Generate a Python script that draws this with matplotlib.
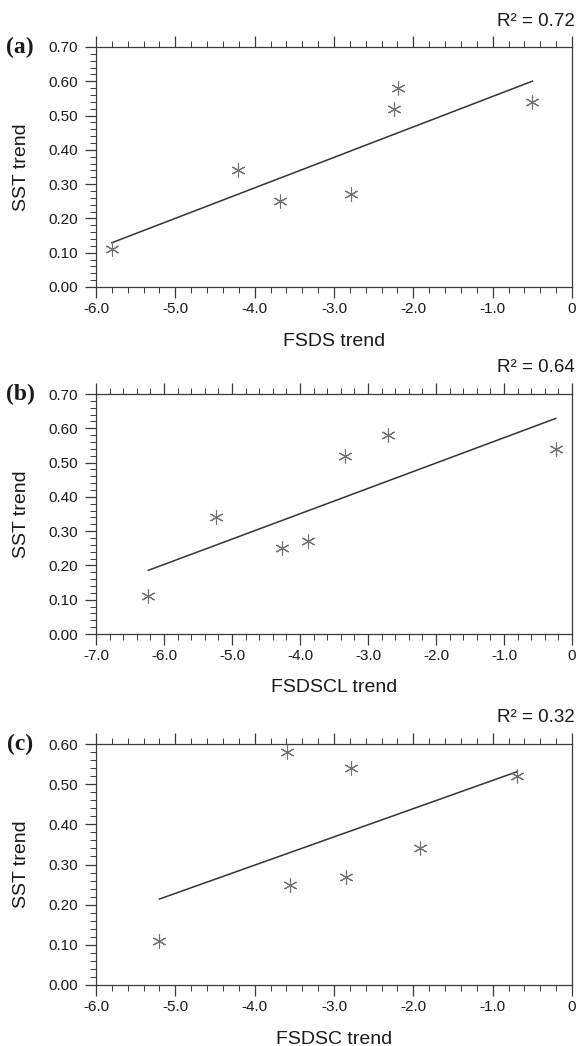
import numpy as np
import matplotlib
matplotlib.use("Agg")
import matplotlib.pyplot as plt
from matplotlib.ticker import MultipleLocator, FixedLocator, FixedFormatter

plt.rcParams['font.family'] = ['Liberation Sans', 'DejaVu Sans']

# ---- data ----
sst = [0.11, 0.34, 0.25, 0.27, 0.52, 0.58, 0.54]

fsds = [-5.80, -4.21, -3.68, -2.79, -2.24, -2.19, -0.50]
fsdscl = [-6.23, -5.23, -4.27, -3.88, -3.34, -2.71, -0.24]
fsdsc = [-5.20, -1.91, -3.56, -2.85, -0.69, -3.59, -2.79]

panel_letters = ['(a)', '(b)', '(c)']
r2_labels = ['R\u00b2 = 0.72', 'R\u00b2 = 0.64', 'R\u00b2 = 0.32']
x_labels = ['FSDS trend', 'FSDSCL trend', 'FSDSC trend']
y_label = 'SST trend'

xticks_a = [-6, -5, -4, -3, -2, -1, 0]
xticklabels_a = ['-6.0', '-5.0', '-4.0', '-3.0', '-2.0', '-1.0', '0']
xticks_b = [-7, -6, -5, -4, -3, -2, -1, 0]
xticklabels_b = ['-7.0', '-6.0', '-5.0', '-4.0', '-3.0', '-2.0', '-1.0', '0']
yticks_ab = [0.0, 0.1, 0.2, 0.3, 0.4, 0.5, 0.6, 0.7]
yticklabels_ab = ['0.00', '0.10', '0.20', '0.30', '0.40', '0.50', '0.60', '0.70']
yticks_c = [0.0, 0.1, 0.2, 0.3, 0.4, 0.5, 0.6]
yticklabels_c = ['0.00', '0.10', '0.20', '0.30', '0.40', '0.50', '0.60']

panels = [
    (fsds, xticks_a, xticklabels_a, yticks_ab, yticklabels_ab),
    (fsdscl, xticks_b, xticklabels_b, yticks_ab, yticklabels_ab),
    (fsdsc, xticks_a, xticklabels_a, yticks_c, yticklabels_c),
]

W, H = 577, 1046
fig = plt.figure(figsize=(W / 100, H / 100), dpi=100)

left_px, right_px = 96, 572
tops_px = [47, 394, 744]
bots_px = [287, 634, 985]

axis_col = '#3a3a3a'
for i, (xv, xt, xtl, yt, ytl) in enumerate(panels):
    t, b = tops_px[i], bots_px[i]
    ax = fig.add_axes([left_px / W, 1 - b / H, (right_px - left_px) / W, (b - t) / H])
    ax.plot(xv, sst, ls='none', marker=(6, 2, 0), ms=10, mew=0.8,
            color='#707070', zorder=3)
    coef = np.polyfit(xv, sst, 1)
    xs = np.array([min(xv), max(xv)])
    ax.plot(xs, np.polyval(coef, xs), color='#333333', lw=1.1, zorder=2)

    ax.set_xlim(xt[0], xt[-1])
    ax.set_ylim(yt[0], yt[-1])
    ax.xaxis.set_major_locator(FixedLocator(xt))
    ax.xaxis.set_major_formatter(FixedFormatter(xtl))
    ax.xaxis.set_minor_locator(MultipleLocator(0.2))
    ax.yaxis.set_major_locator(FixedLocator(yt))
    ax.yaxis.set_major_formatter(FixedFormatter(ytl))
    ax.yaxis.set_minor_locator(MultipleLocator(0.02))

    ax.tick_params(which='both', direction='out', top=True, right=False,
                   labeltop=False, colors=axis_col, labelcolor='#1a1a1a',
                   labelsize=11)
    ax.tick_params(which='major', length=8, width=0.9)
    ax.tick_params(which='minor', length=4, width=0.7)
    ax.tick_params(axis='x', which='major', pad=3)
    ax.tick_params(axis='y', which='major', pad=5)
    for s in ax.spines.values():
        s.set_color(axis_col)
        s.set_linewidth(0.9)

    hpx = b - t
    wpx = right_px - left_px
    ax.set_xlabel(x_labels[i], fontsize=14, va='center', color='#1a1a1a')
    ax.xaxis.set_label_coords(0.5, -54 / hpx)
    ax.set_ylabel(y_label, fontsize=14, va='center', color='#1a1a1a')
    ax.yaxis.set_label_coords(-(left_px - 22) / wpx, 0.5)

    ax.text(1.0 + 3 / wpx, 1 + 26 / hpx, r2_labels[i], transform=ax.transAxes,
            ha='right', va='center', fontsize=13.5, color='#1a1a1a')
    ax.text(-(left_px - 20) / wpx, 1.0, panel_letters[i], transform=ax.transAxes,
            ha='center', va='center', fontsize=17, fontweight='bold',
            family=['Liberation Serif', 'DejaVu Serif'], color='#1a1a1a')

fig.savefig('out.png', dpi=100)
